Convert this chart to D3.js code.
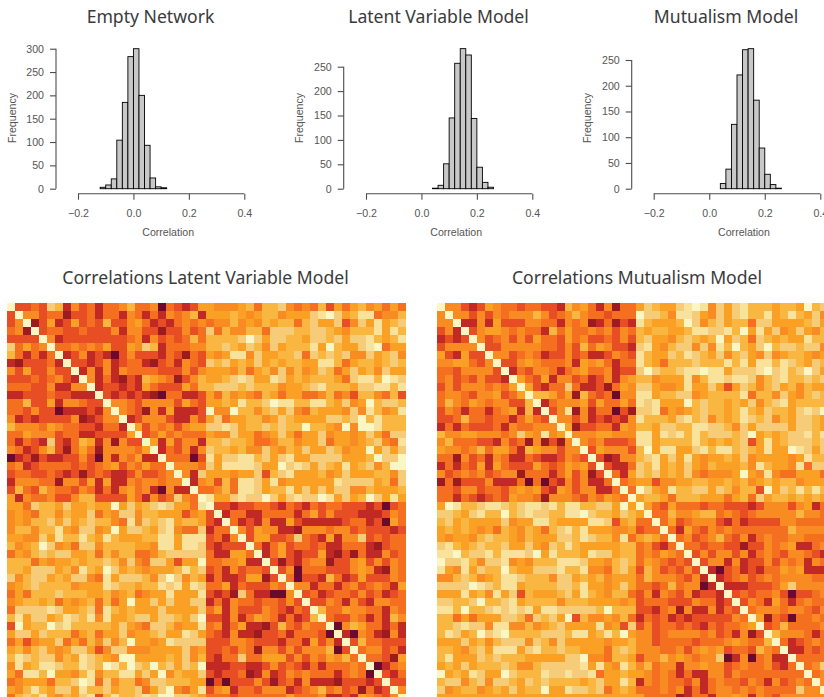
<!DOCTYPE html>
<html><head><meta charset="utf-8">
<script src="https://cdn.jsdelivr.net/npm/d3@7"></script>
<style>html,body{margin:0;padding:0;background:#fff;overflow:hidden}svg{display:block}</style>
</head><body><div id="chart"></div>
<script>
// Histogram values (bin start, count), bin width 0.02
const binWidth = 0.02;
const emptyBins = [-0.12,-0.10,-0.08,-0.06,-0.04,-0.02,0,0.02,0.04,0.06,0.08,0.10];
const emptyCounts = [3,8,21,104,185,283,300,200,93,23,4,2];
const latentBins = [0.04,0.06,0.08,0.10,0.12,0.14,0.16,0.18,0.20,0.22,0.24];
const latentCounts = [1,7,51,145,257,287,274,144,44,13,3];
const mutualBins = [0.04,0.06,0.08,0.10,0.12,0.14,0.16,0.18,0.20,0.22,0.24];
const mutualCounts = [10,38,125,221,270,272,172,79,28,8,1];
const xTicks = [-0.2,0,0.2,0.4];
const emptyYTicks = [0,50,100,150,200,250,300];
const otherYTicks = [0,50,100,150,200,250];

// Correlation heatmap levels, a = highest pale diagonal colour ... k = darkest
const levels = "abcdefghijk".split("");
const levelColors = ["#fbf7c4","#f9e29c","#f6cc78","#f9b640","#faa125","#f88b22","#f56f20","#e84e24","#c12a24","#9b1b20","#6b0a2e"];

// Latent Variable Model: upper triangle of first block (row r, from column r)
const latentTL = [
"a h h g h c d i f h g i g g f d g g f k g h i h e",
"a f f h g g j h h g i g g i f g i g i f g f d i",
"a j h e i h e h g h d h h f e g i h i g f g f",
"a h g g h h g h h h f i f f h h j h h f h g",
"a f i h h h h h h h h g f i f h g h g d g g h",
"a g g f g f g e h h e f c d i g g g f f",
"a i h f i h i k h f h h h i g h j g h",
"a h h i h f i h g g i j h g i f g h",
"a i f i f i f g g g g h h h f h f",
"a f i g i j h i d e f g j h f d",
"a i h h i h i e g h h h e g d",
"a h i h i h i j k g g i i h",
"a f f g h f f f f h e g h",
"a f g h j f i e i i i h",
"a i h f f f h i i f h",
"a e h f g f h f e e",
"a h g e g f g g g",
"a e i e h f f i",
"a i g h f i f",
"a g g g k h",
"a f f f g",
"a f i c",
"a i f",
"a g",
"a"];
// Latent Variable Model: block between the two halves (rows 0-24, columns 25-49)
const latentTR = [
"e f f f e d g d d c f g f g d h e g e d f e g e g",
"e e e d e f e d d f e e e c b a c e d b b g f f d",
"g f f d f e f d e d d g d c e e c h f c e b e d c",
"c g d f f d d g c c c d d c c d e f d d d b e b d",
"d d d d c a c e c c d d e c c d c e c c b d e d b",
"d d c d e c d f c e d d d b e a d e e c b a g e e",
"e f e b b f c e e d d c g c d c d c f f c e d c f",
"c d c e d e c e d e d d e e b b d g e d d e d c d",
"e e e f d g e d f c f d f e c d g e c e d f c e e",
"e e d c b c e e b c e d e d d d e g c b b d a b c",
"d c c c d c d d d f e e d c b d d d e c c b b d b",
"e g d f e f g d e g e e g g f d g f h d d f g d h",
"e e d e b d d c a b b d d b b d e c f e a d c c d",
"a f f a d d f d c e c f g d e e e f c f b d f e b",
"e c g e e d d f e c d e e e e c c d c a d b d d d",
"c c b c e d d c d c d d a d d e f a f a a b d d d",
"e f f c e e g f e c e g e e c f e e f e c e g c c",
"d d c d d e g g f d d f e e c g e e f e d c f g b",
"c d d e d f f c e f d e c e e c d f e e a e c e c",
"b e c c b b d c e c b e e c c c c e e e d a c c a",
"c e b b b b c e e a c b c e c d e b e d c f d a a",
"e e e f e e c h d c b e e e d f e c e e e d d f c",
"e h d g b b c e b f e e e e e e b c c c c e d g c",
"g f d g b b c e d d b e c e c e c c f f d e e e d",
"b e e c b c c a c e c b c c a b e c e d a c e b e"];
// Latent Variable Model: upper triangle of second block
const latentBR = [
"a h h i h h g g h i g h i g h g g h h h i h k h g",
"a i g g i i g g g g i g e h f h h h i i i h f g",
"a g i h i f i i e h i i i i i h g g i h k e g",
"a f h e f f i i j f f f g f f h g h h h i h",
"a h e e h h g c g h i e i f f c h g h g g",
"a g i g e h g g h g i i g g g i j h g g",
"a i g e h i h h e i j h j g i i f h g",
"a h j h i g f f j h h f e h f h f g",
"a h f k g g g h h h f e f i j f g",
"a g k h h i d g i h e h h h f g",
"a f f i g g i g f h g f g i e",
"a h g i h g g h f h g i h g",
"a h h f g i f h i f f g g",
"a d g g e f f g g i f g",
"a g h h f g i g i d f",
"a k f d e g g i g i",
"a i k f g i j f i",
"a h d g g h h h",
"a g f f h g i",
"a g g h j e",
"a k i g f",
"a h i g",
"a h h",
"a f",
"a"];

// Mutualism Model: same three parts
const mutualTL = [
"a f f h i h e f g g h g g h h i d f e g i f j g g",
"a f f h f h f g f f f d f h g f d f g g h g g g",
"a i i f i e h h h f f g g i f g f j i g j h i",
"a h f e e f g f g g i d g e g g f g f h f g",
"a f h g f h f h e g g h e g f h h g h f h",
"a h h f f f f f g g h f h d g e f h h i",
"a f f h g f g i h h f h g i i h f g h",
"a h h f e f g g g f i e f e g i g g",
"a i g h f f g i g f e g g f i h h",
"a e g h e i f f h g i h f i f e",
"a e h i g g c g i i h j g e f",
"a d d e g e j d g h g k f f",
"a i g f f f e h e g g e g",
"a h f b j f i g g k h j",
"a f f h f i h i h i f",
"a e j h h g g i e f",
"a f f f e e f f f",
"a f g f h h h g",
"a h e f f f h",
"a h j i f f",
"a h i i g",
"a g i e",
"a g f",
"a g",
"a"];
const mutualTR = [
"e c d e e c b a b f c e c b d d d e d d e a d c e",
"a c c d f b b c e f c e c b d d b e d b d e c f e",
"b d e e e d a c f d c e d d g c c e e e e d c e e",
"d e d d e e d b b c c b d a e b e c f e c e f d e",
"d c e e f d c d e d a e c d g c d e d e e b d d e",
"c b e f d c c f c f b d a d e c a d c c d c c f e",
"b d e e c d b c d e c f d c e f c f e d d e f e e",
"b d e g d d d c d d d b d b e b b d b c d e c d e",
"c a c d d c b b a b b e c c c b a c b d c a c e e",
"d d f e e e b f d b b c b b c f d c b d d c d c e",
"c c e f f e b e e c e h e c d f d c e d f d e e e",
"b b e d d c c f e d d d d b g d d f c e f d c d e",
"b c b e e e a d c d d e d e c f d c b e d d d d e",
"c c b g e f e d c d d e d b d e c d d e c b c a e",
"b d d d e c b d c f d e d b c d c f d e c c d e e",
"d d e c c d d b b c c d f c e c c c c e c c d e e",
"b b e b c b d b d c c c d c a e d e d c c b d b e",
"b b e d d d d b d e d e d c h e b e d c c c d c e",
"d a e b b e e c b d b b d c d e b e e a b c e c e",
"d c b e c e b e f e e d e c f e e e e f e b d d e",
"c d b e d e c e f d e e e d f b d e e f b g c c e",
"c d c e d e c f g f f f e a e f b f g g e e e g e",
"e e h f f e e d d e e d e d f e d e d d f e e e e",
"a c e f b d d c c e c d f d d h a e c d b d b d e",
"e d d e g d d d e e e g e d g c e d d e d e d e e"];
const mutualBR = [
"a e g h e g g g h g g h h h i h f f f h f e i g e",
"a g g d f f e d d g f g h g f f f f f d f f g g",
"a g e h g f f f h i g i h h h h f f g g g g g",
"a g i e g h f g f g g g g g g g d f f f f g",
"a g f h g f d g h f i g f g g f f g g g g",
"a g g h g g h h j h h f g f e i i g f j",
"a h f h f f h f i g f g h f f g h i i",
"a h f f i f i h h f h f g f i f g g",
"a i k h g i h i g g e f e i i i g",
"a i h g f h g f g f f f f g g i",
"a i i i h h h g e c f f f f f",
"a h g h g g f h k h h g f f",
"a h f g i e g i g f g g e",
"a g f f f g f f g h f f",
"a e j g h k g g f g i",
"a h g d g g g g f f",
"a d f f f g i g g",
"a g i h g f g h",
"a i i g h g f",
"a g g g g f",
"a g f c f",
"a g f f",
"a f f",
"a f",
"a"];
const labelMinus = "\u2212";

const svg = d3.select("#chart").append("svg").attr("width",824).attr("height",697).attr("viewBox","0 0 824 697");
const sansFont = "'Liberation Sans',Arial,sans-serif";
const titleFont = "'Noto Sans',sans-serif";
const inkGrey = "#4d4d4d";
const labelSize = "10.6px";

function histogram(cfg){
  const x = d3.scaleLinear().domain([-0.2,0.4]).range([cfg.x0,cfg.x1]);
  const y = d3.scaleLinear().domain([0,cfg.yMax]).range([188.7,188.7-cfg.yPx]);
  const g = svg.append("g");
  g.selectAll("rect").data(cfg.bins.map((b,i)=>({b,c:cfg.counts[i]}))).join("rect")
    .attr("x",d=>x(d.b)).attr("width",d=>x(d.b+binWidth)-x(d.b))
    .attr("y",d=>y(d.c)).attr("height",d=>y(0)-y(d.c))
    .attr("fill","#c8c8c8").attr("stroke","#000").attr("stroke-width",0.9);
  const xa = g.append("g").attr("transform","translate(0,193.7)")
    .call(d3.axisBottom(x).tickValues(xTicks).tickSize(6).tickPadding(10)
      .tickFormat(v=>(v<0?labelMinus:"")+Math.abs(v).toFixed(1)));
  const ya = g.append("g").attr("transform",`translate(${cfg.yAxisX},0)`)
    .call(d3.axisLeft(y).tickValues(cfg.yTicks).tickSize(6).tickPadding(6));
  [xa,ya].forEach(a=>{
    a.selectAll(".domain").attr("stroke",inkGrey).attr("stroke-width",1.1);
    a.selectAll("line").attr("stroke",inkGrey).attr("stroke-width",1.1);
    a.selectAll("text").attr("fill","#555").style("font-family",sansFont).style("font-size",labelSize);
  });
  ya.select(".domain").attr("d",`M0,${y(cfg.yTicks[cfg.yTicks.length-1])}V${y(0)}`);
  xa.select(".domain").attr("d",`M${x(-0.2)},0H${x(0.4)}`);
  g.append("text").attr("x",(cfg.x0+cfg.x1)/2+7).attr("y",236).attr("text-anchor","middle")
    .attr("fill","#555").style("font-family",sansFont).style("font-size",labelSize).text("Correlation");
  g.append("text").attr("transform",`translate(${cfg.yAxisX-40.5},118) rotate(-90)`).attr("text-anchor","middle")
    .attr("fill","#555").style("font-family",sansFont).style("font-size",labelSize).text("Frequency");
}
histogram({x0:78,x1:244.3,yAxisX:56,yMax:300,yPx:140,bins:emptyBins,counts:emptyCounts,yTicks:emptyYTicks});
histogram({x0:366,x1:532.3,yAxisX:343.7,yMax:250,yPx:122,bins:latentBins,counts:latentCounts,yTicks:otherYTicks});
histogram({x0:653.7,x1:820.3,yAxisX:631.7,yMax:250,yPx:128.7,bins:mutualBins,counts:mutualCounts,yTicks:otherYTicks});

function matrixFrom(tl,tr,br){
  const m = d3.range(50).map(()=>new Array(50).fill("a"));
  const put=(r,c,v)=>{m[r][c]=v;m[c][r]=v;};
  tl.forEach((row,r)=>row.split(" ").forEach((v,i)=>put(r,r+i,v)));
  tr.forEach((row,r)=>row.split(" ").forEach((v,i)=>put(r,25+i,v)));
  br.forEach((row,r)=>row.split(" ").forEach((v,i)=>put(25+r,25+r+i,v)));
  return m;
}
const color = d3.scaleOrdinal(levels,levelColors);
function heatmap(m,x0){
  const x = d3.scaleBand().domain(d3.range(50)).range([x0,x0+398.5]);
  const y = d3.scaleBand().domain(d3.range(50)).range([303,701.5]);
  const cells = m.flatMap((row,r)=>row.map((v,c)=>({r,c,v})));
  svg.append("g").attr("shape-rendering","crispEdges").selectAll("rect").data(cells).join("rect")
    .attr("x",d=>x(d.c)).attr("y",d=>y(d.r)).attr("width",x.bandwidth()).attr("height",y.bandwidth())
    .attr("fill",d=>color(d.v));
}
heatmap(matrixFrom(latentTL,latentTR,latentBR),7);
heatmap(matrixFrom(mutualTL,mutualTR,mutualBR),437);

const titles = [
 ["Empty Network",150.5,23],["Latent Variable Model",438.5,23],["Mutualism Model",726,23],
 ["Correlations Latent Variable Model",205.5,283.5],["Correlations Mutualism Model",637,283.5]];
svg.selectAll("text.title").data(titles).join("text").attr("class","title")
  .attr("x",d=>d[1]).attr("y",d=>d[2]).attr("text-anchor","middle").attr("fill","#3a3a3a")
  .style("font-family",titleFont).style("font-size","17.6px").text(d=>d[0]);
</script></body></html>
